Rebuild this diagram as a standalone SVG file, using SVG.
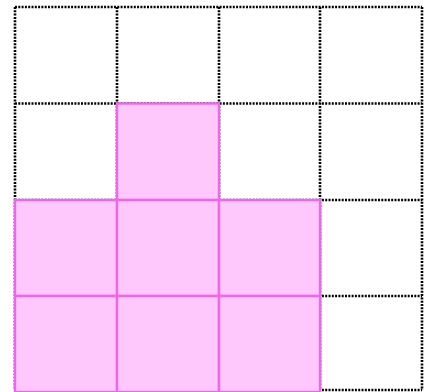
<svg xmlns="http://www.w3.org/2000/svg" width="429" height="392" viewBox="0 0 429 392">
<style>
.grid{fill:none;stroke:#000;stroke-width:2.6;stroke-dasharray:2 1.3}
.cell{fill:#ffc8fc;stroke:#ee66ee;stroke-width:2.4}
</style>
<rect width="429" height="392" fill="#fff"/>
<g id="grid">
<path class="grid" d="M15,7H422M15,103.5H422M15,200H422M15,296H422M15,390H422M15,7V390M117,7V390M219,7V390M320,7V390M422,7V390"/>
</g>
<g id="cells">
<rect id="c11" class="cell" x="117" y="103.5" width="102" height="96.5"/>
<rect id="c20" class="cell" x="15" y="200" width="102" height="96"/>
<rect id="c21" class="cell" x="117" y="200" width="102" height="96"/>
<rect id="c22" class="cell" x="219" y="200" width="101" height="96"/>
<rect id="c30" class="cell" x="15" y="296" width="102" height="96"/>
<rect id="c31" class="cell" x="117" y="296" width="102" height="96"/>
<rect id="c32" class="cell" x="219" y="296" width="101" height="96"/>
</g>
</svg>
